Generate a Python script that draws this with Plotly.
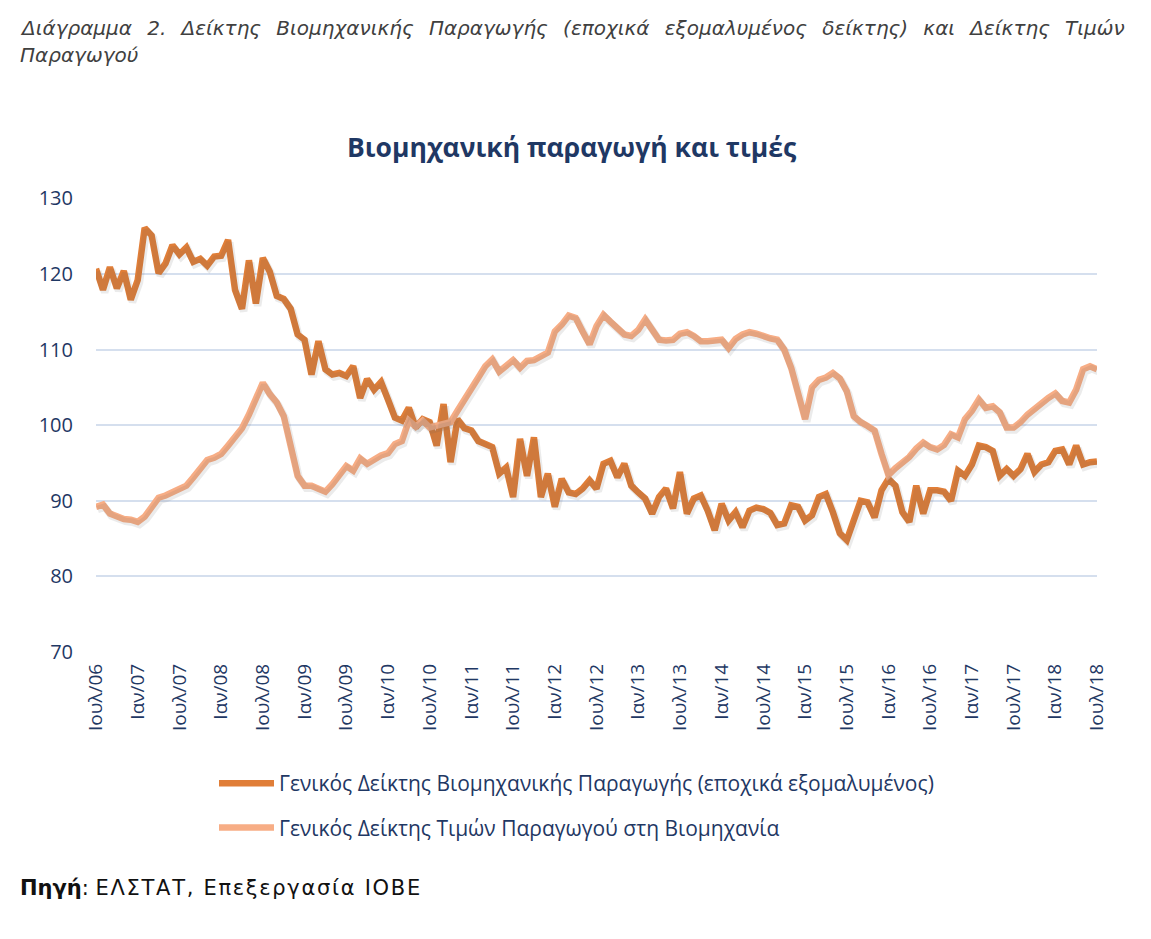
import plotly.graph_objects as go

# ---------------- data ----------------
month_names = ["Ιαν", "Φεβ", "Μαρ", "Απρ", "Μαϊ", "Ιουν",
               "Ιουλ", "Αυγ", "Σεπ", "Οκτ", "Νοε", "Δεκ"]
# monthly categories Ιουλ/06 ... Ιουλ/18
categories = []
for k in range(145):
    m = (6 + k) % 12
    yr = 6 + (6 + k) // 12
    categories.append(f"{month_names[m]}/{yr:02d}")

tick_labels = ["Ιουλ/06", "Ιαν/07", "Ιουλ/07", "Ιαν/08", "Ιουλ/08", "Ιαν/09",
               "Ιουλ/09", "Ιαν/10", "Ιουλ/10", "Ιαν/11", "Ιουλ/11", "Ιαν/12",
               "Ιουλ/12", "Ιαν/13", "Ιουλ/13", "Ιαν/14", "Ιουλ/14", "Ιαν/15",
               "Ιουλ/15", "Ιαν/16", "Ιουλ/16", "Ιαν/17", "Ιουλ/17", "Ιαν/18",
               "Ιουλ/18"]

industrial_production = [
    120.7, 117.9, 120.9, 118.1, 120.4, 116.6, 119.2, 126.1, 125.1, 120.1,
    121.4, 123.8, 122.6, 123.5, 121.6, 122.0, 121.1, 122.3, 122.4, 124.5,
    117.9, 115.4, 121.8, 116.1, 122.1, 120.3, 117.1, 116.7, 115.4, 112.0,
    111.3, 106.7, 111.1, 107.4, 106.7, 106.9, 106.5, 107.8, 103.6, 106.1,
    104.7, 105.7, 103.4, 101.0, 100.6, 102.3, 99.7, 100.8, 100.4, 97.3,
    102.8, 95.1, 100.8, 99.6, 99.3, 97.9, 97.5, 97.1, 93.6, 94.4,
    90.5, 98.2, 93.3, 98.4, 90.5, 93.6, 89.2, 92.9, 91.1, 90.9,
    91.6, 92.7, 91.6, 94.9, 95.3, 93.1, 94.9, 92.0, 91.1, 90.3,
    88.3, 90.5, 91.6, 89.0, 93.8, 88.3, 90.3, 90.7, 88.7, 86.1,
    89.6, 87.4, 88.5, 86.5, 88.7, 89.1, 88.9, 88.4, 86.8, 87.0,
    89.4, 89.2, 87.4, 88.1, 90.5, 90.9, 88.5, 85.7, 84.8, 87.2,
    90.0, 89.8, 87.8, 91.4, 92.9, 92.0, 88.5, 87.2, 92.0, 88.3,
    91.4, 91.4, 91.2, 90.0, 94.0, 93.3, 94.8, 97.3, 97.1, 96.6,
    93.3, 94.2, 93.3, 94.2, 96.2, 93.8, 94.8, 95.1, 96.6, 96.8,
    94.8, 97.3, 94.8, 95.1, 95.2,
]

producer_prices = [
    89.2, 89.5, 88.3, 87.9, 87.6, 87.5, 87.2, 87.9, 89.0, 90.4,
    90.7, 91.1, 91.6, 92.0, 93.1, 94.3, 95.4, 95.7, 96.2, 97.3,
    98.4, 99.6, 101.4, 103.4, 105.6, 104.1, 103.0, 101.2, 97.1, 93.3,
    92.0, 92.0, 91.6, 91.2, 92.2, 93.5, 94.6, 94.0, 95.6, 94.9,
    95.5, 96.0, 96.3, 97.5, 97.9, 100.6, 99.8, 100.6, 99.7, 99.9,
    100.1, 100.4, 101.9, 103.5, 104.7, 106.3, 107.8, 108.7, 107.1, 107.8,
    108.6, 107.6, 108.5, 108.6, 109.1, 109.6, 112.4, 113.3, 114.5, 114.2,
    112.4, 110.7, 113.1, 114.6, 113.7, 112.9, 112.0, 111.8, 112.6, 114.0,
    112.6, 111.3, 111.2, 111.3, 112.1, 112.3, 111.8, 111.1, 111.1, 111.3,
    111.3, 110.2, 111.4, 112.0, 112.3, 112.1, 111.7, 111.5, 111.3, 110.0,
    107.6, 104.1, 100.8, 105.0, 106.0, 106.3, 106.9, 106.2, 104.5, 101.2,
    100.4, 99.9, 99.3, 96.2, 93.4, 94.3, 95.1, 95.8, 96.9, 97.7,
    97.1, 96.8, 97.4, 98.8, 98.4, 100.8, 101.9, 103.4, 102.3, 102.5,
    101.7, 99.7, 99.7, 100.4, 101.4, 102.2, 103.0, 103.6, 104.2, 103.2,
    103.0, 104.7, 107.4, 107.8, 107.4,
]

series_names = [
    "Γενικός Δείκτης Βιομηχανικής Παραγωγής (εποχικά εξομαλυμένος)",
    "Γενικός Δείκτης Τιμών Παραγωγού στη Βιομηχανία",
]

# ---------------- layout helpers (reference pixel -> paper coords) ----------------
PX0, PX1 = 96, 1097   # plot area left/right in reference pixels
PY0, PY1 = 198, 652   # plot area top/bottom in reference pixels


def paper_x(px):
    return (px - PX0) / (PX1 - PX0)


def paper_y(py):
    return (PY1 - py) / (PY1 - PY0)


NAVY = "#1F3864"
DARK_ORANGE = "#E07E38"
LIGHT_ORANGE = "#F7AD85"
SHADOW = "rgba(90,90,90,0.12)"
Y_RANGE = [70, 130.05]
X_RANGE = [0, 144]
# soft drop shadow: same series drawn on a twin axis whose range is nudged
SHADOW_DY = 0.33   # value units  (~2.5 px down)
SHADOW_DX = 0.25   # category units (~1.7 px right)

fig = go.Figure()
for vals in (industrial_production, producer_prices):
    fig.add_trace(go.Scatter(
        x=categories, y=vals, mode="lines", xaxis="x2", yaxis="y2",
        showlegend=False, hoverinfo="skip",
        line=dict(color=SHADOW, width=7.5),
    ))
fig.add_trace(go.Scatter(
    x=categories, y=industrial_production, mode="lines",
    name=series_names[0], legendgroup="a",
    line=dict(color=DARK_ORANGE, width=6.5),
))
fig.add_trace(go.Scatter(
    x=categories, y=producer_prices, mode="lines",
    name=series_names[1], legendgroup="b",
    line=dict(color=LIGHT_ORANGE, width=6.5),
))

fig.update_layout(
    width=1135, height=923,
    margin=dict(l=88, r=46, t=190, b=279, autoexpand=False),
    paper_bgcolor="white", plot_bgcolor="white",
    font=dict(family="Open Sans", color=NAVY),
    showlegend=True,
    legend=dict(
        x=paper_x(214), y=paper_y(763), xanchor="left", yanchor="top",
        orientation="v", traceorder="grouped", tracegroupgap=14,
        itemwidth=55, font=dict(size=21, color=NAVY, family="Open Sans"),
        bgcolor="rgba(0,0,0,0)",
    ),
    xaxis=dict(
        type="category", range=X_RANGE,
        tickmode="array", tickvals=tick_labels, ticktext=tick_labels,
        tickangle=-90, tickfont=dict(size=19, color=NAVY, family="Open Sans"),
        showgrid=False, showline=False, zeroline=False, ticks="",
        ticklabelstandoff=7,
    ),
    yaxis=dict(
        range=Y_RANGE, tickmode="array", tickvals=[70, 80, 90, 100, 110, 120, 130],
        tickfont=dict(size=20, color=NAVY, family="Open Sans"),
        showgrid=True, gridcolor="#D5DFEE", gridwidth=2,
        showline=False, zeroline=False, ticks="", ticklabelstandoff=22,
    ),
    xaxis2=dict(
        type="category", overlaying="x",
        range=[X_RANGE[0] - SHADOW_DX, X_RANGE[1] - SHADOW_DX],
        visible=False, categoryarray=categories, categoryorder="array",
    ),
    yaxis2=dict(
        overlaying="y", range=[Y_RANGE[0] + SHADOW_DY, Y_RANGE[1] + SHADOW_DY],
        visible=False, showgrid=False,
    ),
)

caption1 = ("<i><span style='word-spacing:8.9px'>Διάγραμμα 2. Δείκτης Βιομηχανικής "
            "Παραγωγής (εποχικά εξομαλυμένος δείκτης) και Δείκτης Τιμών</span></i>")
caption2 = "<i>Παραγωγού</i>"
source = "<b>Πηγή</b>: <span style='letter-spacing:1.7px'>ΕΛΣΤΑΤ, Επεξεργασία ΙΟΒΕ</span>"

annotations = [
    dict(text=caption1, x=paper_x(18), y=paper_y(28), xanchor="left", yanchor="middle",
         font=dict(family="DejaVu Sans", size=20, color="#404040")),
    dict(text=caption2, x=paper_x(18), y=paper_y(55), xanchor="left", yanchor="middle",
         font=dict(family="DejaVu Sans", size=20, color="#404040")),
    dict(text="<b>Βιομηχανική παραγωγή και τιμές</b>",
         x=paper_x(572), y=paper_y(147), xanchor="center", yanchor="middle",
         font=dict(family="Open Sans", size=26.5, color=NAVY)),
    dict(text=source, x=paper_x(18), y=paper_y(888), xanchor="left", yanchor="middle",
         font=dict(family="DejaVu Sans", size=21, color="#111111")),
]
for a in annotations:
    a.update(xref="paper", yref="paper", showarrow=False)
fig.update_layout(annotations=annotations)

fig.write_html("out.html")
